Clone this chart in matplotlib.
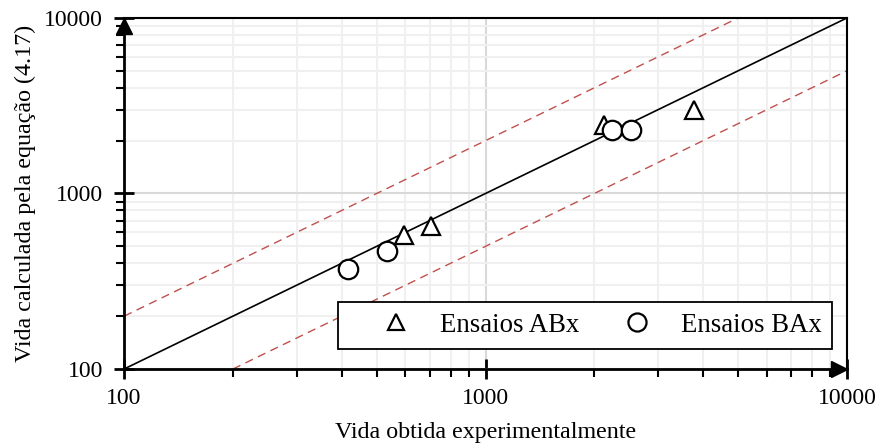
import numpy as np
import matplotlib
matplotlib.use("Agg")
import matplotlib.pyplot as plt
from matplotlib import ticker
from matplotlib.patches import Rectangle
from matplotlib.transforms import offset_copy

plt.rcParams['font.family'] = ['Liberation Serif', 'DejaVu Serif']

# ======== dados ========#
# ensaios ABx: vida experimental x vida calculada
ab_exp = [593, 705, 2130, 3780]
ab_calc = [580, 653, 2460, 2990]
# ensaios BAx
ba_exp = [416, 533, 2243, 2530]
ba_calc = [371, 470, 2300, 2300]

# linhas de referencia: y = x, y = 2x, y = x/2
lim = [100, 10000]
sup_x = [100, 5000]
inf_x = [200, 10000]

fig = plt.figure(figsize=(8.8, 4.48), dpi=100)
ax = fig.add_axes([0.141, 0.1763, 0.8215, 0.7837])

ax.set_xscale('log')
ax.set_yscale('log')
ax.set_xlim(lim)
ax.set_ylim(lim)

# grade
ax.grid(which='major', color='#d9d9d9', lw=1.5, zorder=0)
ax.grid(which='minor', color='#f0f0f0', lw=1.5, zorder=0)
ax.set_axisbelow(True)

ax.plot(lim, lim, color='black', lw=1.2, zorder=2)
ax.plot(sup_x, [2 * v for v in sup_x], color='#c0504d', lw=1.0, ls=(0, (6, 4)), zorder=2)
ax.plot(inf_x, [v / 2 for v in inf_x], color='#c0504d', lw=1.0, ls=(0, (6, 4)), zorder=2)

ax.plot(ab_exp, ab_calc, ls='none', marker='^', ms=13, mfc='white', mec='black',
        mew=1.6, label='Ensaios ABx', zorder=3)
ax.plot(ba_exp, ba_calc, ls='none', marker='o', ms=14, mfc='white', mec='black',
        mew=1.6, label='Ensaios BAx', zorder=3)

# eixos
for s in ['left', 'bottom']:
    ax.spines[s].set_linewidth(2.0)
for s in ['top', 'right']:
    ax.spines[s].set_linewidth(1.5)

ax.xaxis.set_major_locator(ticker.LogLocator(base=10, numticks=5))
ax.yaxis.set_major_locator(ticker.LogLocator(base=10, numticks=5))
ax.xaxis.set_major_formatter(ticker.FuncFormatter(lambda v, p: '%d' % v))
ax.yaxis.set_major_formatter(ticker.FuncFormatter(lambda v, p: '%d' % v))
ax.xaxis.set_minor_formatter(ticker.NullFormatter())
ax.yaxis.set_minor_formatter(ticker.NullFormatter())
ax.tick_params(which='major', direction='inout', length=14, width=2, labelsize=17,
               top=False, right=False)
ax.tick_params(which='minor', direction='out', length=6, width=1.5, top=False, right=False)
ax.tick_params(axis='x', which='major', pad=7)
ax.tick_params(axis='y', which='major', pad=8)

# setas nas pontas dos eixos
tr_up = offset_copy(ax.transAxes, fig=fig, y=-6, units='points')
tr_rt = offset_copy(ax.transAxes, fig=fig, x=-6, units='points')
ax.plot(0, 1, marker='^', ms=11, color='black', transform=tr_up, clip_on=False, zorder=5)
ax.plot(1, 0, marker='>', ms=11, color='black', transform=tr_rt, clip_on=False, zorder=5)

ax.set_xlabel('Vida obtida experimentalmente', fontsize=17.3, labelpad=9)
ax.set_ylabel('Vida calculada pela equação (4.17)', fontsize=17.3, labelpad=6)

# legenda com moldura propria
ax.add_patch(Rectangle((0.296, 0.057), 0.683, 0.134, transform=ax.transAxes,
                       facecolor='white', edgecolor='black', lw=1.3, zorder=6))
leg = ax.legend(loc='center left', bbox_to_anchor=(0.339, 0.125), ncol=2,
                fontsize=19.3, frameon=False, borderaxespad=0, borderpad=0,
                handlelength=2.0, handletextpad=0.63, columnspacing=1.18,
                markerscale=0.93)
leg.set_zorder(7)

fig.savefig('out.png', dpi=100)
